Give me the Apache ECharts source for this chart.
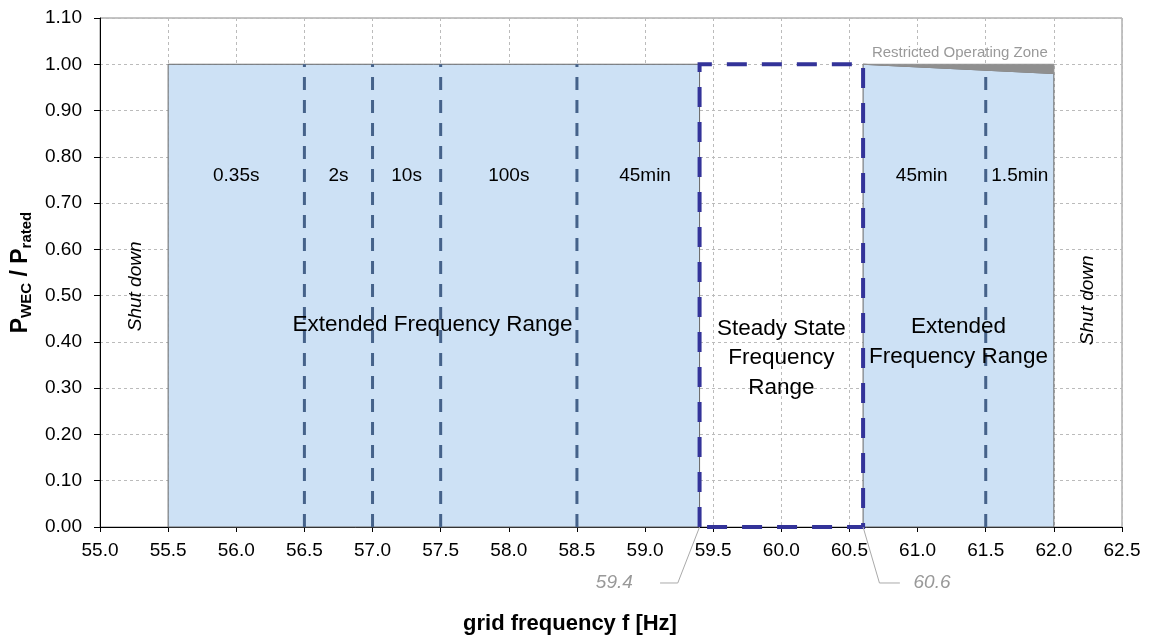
<!DOCTYPE html>
<html><head><meta charset="utf-8">
<script src="https://cdn.jsdelivr.net/npm/echarts@6/dist/echarts.min.js"></script>
<style>html,body{margin:0;padding:0;background:#fff}#c{width:1150px;height:637px}</style>
</head><body><div id="c"></div>
<script>
// ---- data ----
const xMin = 55, xMax = 62.5, xStep = 0.5;
const yMin = 0, yMax = 1.1, yStep = 0.1;
const leftZone = [[55.5,0],[55.5,1],[59.4,1],[59.4,0]];
const rightZone = [[60.6,0],[60.6,1],[62,0.98],[62,0]];
const restrictedZone = [[60.6,1],[62,1],[62,0.98]];
const steadyZone = [[59.4,0],[59.4,1],[60.6,1],[60.6,0]];
const durationBoundX = [56.5, 57, 57.5, 58.5, 61.5];
const durationBoundTop = [1, 1, 1, 1, 0.987];
const durationLabels = ['0.35s','2s','10s','100s','45min','45min','1.5min'];
const durationX = [56.0, 56.75, 57.25, 58.0, 59.0, 61.03, 61.75];
const durationY = 0.76;
const regionLabels = ['Extended Frequency Range','Steady State\nFrequency\nRange','Extended\nFrequency Range'];
const regionX = [57.44, 60.0, 61.3];
const regionY = [0.438, 0.365, 0.40];
const shutLabel = 'Shut down';
const shutX = [55.26, 62.25];
const shutY = [0.52, 0.49];
const zoneLabel = 'Restricted Operating Zone';
const zoneLabelPos = [61.31, 1.024];
const boundaryLabels = ['59.4', '60.6'];
const leader594 = [[59.4,0],[59.24,-0.121],[59.11,-0.121]];
const leader606 = [[60.6,0],[60.72,-0.121],[60.87,-0.121]];
const boundaryLabelPos = [[58.91,-0.121],[60.97,-0.121]];
const boundaryAlign = ['right','left'];

const FF = "'Liberation Sans', Arial, sans-serif";

function polygonSeries(points, style, z) {
  return {
    type: 'custom', coordinateSystem: 'cartesian2d', silent: true, clip: false, z: z,
    data: [points[0]],
    renderItem: (params, api) => ({
      type: 'polygon',
      shape: { points: points.map(p => api.coord(p)) },
      style: style
    })
  };
}
function polylineSeries(points, style, z) {
  return {
    type: 'custom', coordinateSystem: 'cartesian2d', silent: true, clip: false, z: z,
    data: [points[0]],
    renderItem: (params, api) => ({
      type: 'polyline',
      shape: { points: points.map(p => api.coord(p)) },
      style: style
    })
  };
}
function textSeries(texts, xs, ys, opts, z) {
  return {
    type: 'custom', coordinateSystem: 'cartesian2d', silent: true, clip: false, z: z,
    data: xs.map((x, i) => [x, ys[i]]),
    renderItem: (params, api) => {
      const i = params.dataIndex;
      const c = api.coord([api.value(0), api.value(1)]);
      return {
        type: 'text',
        x: c[0], y: c[1],
        rotation: opts.rotation || 0,
        style: {
          text: texts[i], x: 0, y: 0,
          align: Array.isArray(opts.align) ? opts.align[i] : (opts.align || 'center'),
          verticalAlign: 'middle',
          fill: opts.color || '#000',
          font: opts.font,
          lineHeight: opts.lineHeight
        }
      };
    }
  };
}

const series = [
  polygonSeries(leftZone, { fill: '#cde1f5', stroke: '#666', lineWidth: 1 }, 1),
  polygonSeries(rightZone, { fill: '#cde1f5', stroke: '#666', lineWidth: 1 }, 1),
  polygonSeries(restrictedZone, { fill: '#8f8f8f', stroke: '#8f8f8f', lineWidth: 1 }, 1),
  {
    type: 'custom', coordinateSystem: 'cartesian2d', silent: true, z: 3,
    data: durationBoundX.map((x, i) => [x, durationBoundTop[i]]),
    renderItem: (params, api) => {
      const a = api.coord([api.value(0), 0]);
      const b = api.coord([api.value(0), api.value(1)]);
      return { type: 'line', shape: { x1: a[0], y1: a[1], x2: b[0], y2: b[1] },
        style: { stroke: '#45628a', lineWidth: 3, lineDash: [13, 10] } };
    }
  },
  polygonSeries(steadyZone, { fill: null, stroke: '#333399', lineWidth: 4, lineDash: [20, 15] }, 4),
  polylineSeries(leader594, { stroke: '#aaaaaa', lineWidth: 1, fill: null }, 4),
  polylineSeries(leader606, { stroke: '#aaaaaa', lineWidth: 1, fill: null }, 4),
  textSeries(durationLabels, durationX, durationX.map(() => durationY), { font: '19px ' + FF }, 5),
  textSeries(regionLabels, regionX, regionY, { font: '22.5px ' + FF, lineHeight: 29.5 }, 5),
  textSeries([shutLabel, shutLabel], shutX, shutY, { font: 'italic 19px ' + FF, rotation: Math.PI / 2 }, 5),
  textSeries([zoneLabel], [zoneLabelPos[0]], [zoneLabelPos[1]], { font: '15px ' + FF, color: '#999' }, 5),
  textSeries(boundaryLabels, boundaryLabelPos.map(p => p[0]), boundaryLabelPos.map(p => p[1]),
    { font: 'italic 19px ' + FF, color: '#999', align: boundaryAlign }, 5)
];

const chart = echarts.init(document.getElementById('c'));
chart.setOption({
  animation: false,
  backgroundColor: '#fff',
  textStyle: { fontFamily: FF },
  grid: { left: 100, right: 28, top: 18, bottom: 110, show: true, borderColor: '#888', borderWidth: 1,
    containLabel: false, outerBoundsMode: 'none' },
  xAxis: {
    type: 'value', min: xMin, max: xMax, interval: xStep,
    name: 'grid frequency f [Hz]', nameLocation: 'middle', nameGap: 86,
    nameTextStyle: { fontSize: 22, fontWeight: 'bold', color: '#000', fontFamily: FF, padding: [0, 82, 0, 0] },
    axisLine: { onZero: false, lineStyle: { color: '#000', width: 1 } },
    axisTick: { show: true, length: 5, lineStyle: { color: '#000' } },
    axisLabel: { fontSize: 19, color: '#000', margin: 14, formatter: v => v.toFixed(1) },
    splitLine: { show: true, lineStyle: { color: '#bbb', type: [3, 3], width: 1 } }
  },
  yAxis: {
    type: 'value', min: yMin, max: yMax, interval: yStep,
    name: '{a|P}{b|WEC}{a| / P}{b|rated}', nameLocation: 'middle', nameGap: 66, nameRotate: 90,
    nameTextStyle: {
      color: '#000', fontFamily: FF,
      rich: {
        a: { fontSize: 23, fontWeight: 'bold', color: '#000', fontFamily: FF, lineHeight: 26 },
        b: { fontSize: 15, fontWeight: 'bold', color: '#000', fontFamily: FF, lineHeight: 15, verticalAlign: 'bottom' }
      }
    },
    axisLine: { show: true, onZero: false, lineStyle: { color: '#000', width: 1 } },
    axisTick: { show: true, length: 6, lineStyle: { color: '#000' } },
    axisLabel: { fontSize: 19, color: '#000', margin: 18, formatter: v => v.toFixed(2) },
    splitLine: { show: true, lineStyle: { color: '#bbb', type: [3, 3], width: 1 } }
  },
  series: series
});
</script>
</body></html>
